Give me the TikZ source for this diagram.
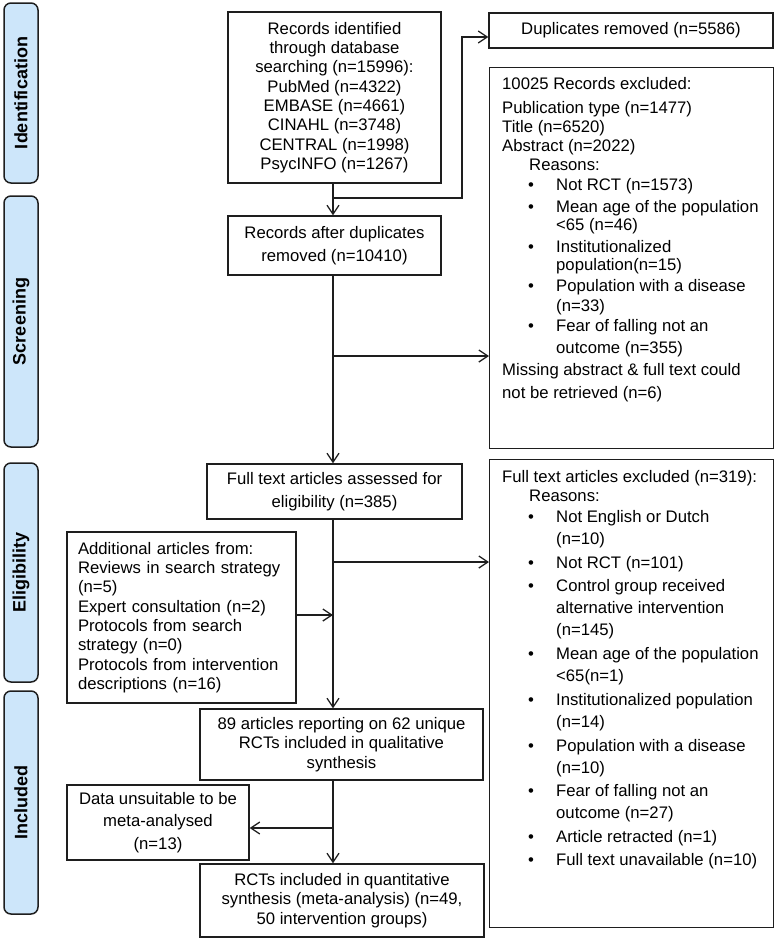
\documentclass[tikz,border=0pt]{standalone}
\usepackage{fontspec}
\setmainfont{Liberation Sans}
\usetikzlibrary{arrows.meta}
\definecolor{barfill}{RGB}{205,230,250}
\definecolor{ink}{RGB}{30,30,30}
\newcommand{\fcbul}{\hspace*{26pt}\makebox[28pt][l]{•}}
\newcommand{\fccont}{\hspace*{54pt}}
\begin{document}
\begin{tikzpicture}[x=1pt,y=-1pt,
  box/.style={draw=ink, line width=1.3pt, inner sep=0pt, align=center, text=black,
    font=\fontsize{16.7}{19.3}\selectfont},
  bar/.style={draw=ink, fill=barfill, line width=1.5pt, rounded corners=7pt, rotate=90,
    inner sep=0pt, minimum height=34pt, font=\fontsize{18}{20}\selectfont\bfseries},
  arr/.style={draw=ink, line width=1.3pt, -{Straight Barb[length=9pt,width=12pt]}},
  ln/.style={draw=ink, line width=1.3pt}
]
\useasboundingbox (0,0) rectangle (776,940);

% phase bars
\node[bar, minimum width=180pt] (ident) at (21,93) {Identification};
\node[bar, minimum width=251pt] (scr) at (21,321.5) {Screening};
\node[bar, minimum width=219pt] (elig) at (21,572.5) {Eligibility};
\node[bar, minimum width=223pt] (incl) at (21,802.5) {Included};

% main boxes
\node[box, minimum width=213pt, minimum height=171pt] (rec) at (334.5,97.5)
  {Records identified\\through database\\searching (n=15996):\\PubMed (n=4322)\\EMBASE (n=4661)\\CINAHL (n=3748)\\CENTRAL (n=1998)\\PsycINFO (n=1267)};
\node[box, minimum width=284pt, minimum height=35pt] (dup) at (631,30.5)
  {Duplicates removed (n=5586)};
\node[box, minimum width=213pt, minimum height=59pt, font=\fontsize{16.7}{23}\selectfont] (after) at (334.5,245.5)
  {Records after duplicates\\removed (n=10410)};
\node[box, minimum width=255pt, minimum height=55pt, font=\fontsize{16.7}{23}\selectfont] (full) at (334.5,491.5)
  {Full text articles assessed for\\eligibility (n=385)};
\node[box, minimum width=229pt, minimum height=171pt, text width=207pt, inner xsep=11pt, align=left] (add) at (181.5,617.5)
  {Additional articles from:\\Reviews in search strategy\\(n=5)\\Expert consultation (n=2)\\Protocols from search\\strategy (n=0)\\Protocols from intervention\\descriptions (n=16)};
\node[box, minimum width=283pt, minimum height=71pt] (n89) at (341.5,744.5)
  {89 articles reporting on 62 unique\\RCTs included in qualitative\\synthesis};
\node[box, minimum width=182pt, minimum height=75pt, font=\fontsize{16.7}{22.5}\selectfont] (data) at (158,822.5)
  {Data unsuitable to be\\meta-analysed\\(n=13)};
\node[box, minimum width=284pt, minimum height=73pt, font=\fontsize{16.7}{19.5}\selectfont] (rcts) at (342,900.5)
  {RCTs included in quantitative\\synthesis (meta-analysis) (n=49,\\50 intervention groups)};

% exclusion boxes
\node[box, minimum width=284pt, minimum height=381pt, anchor=north west] (exc1) at (489,67) {};
\node[anchor=base west, inner sep=0pt] (exc1t) at (502,89) {\parbox[t]{272pt}{\fontsize{16.7}{19.3}\selectfont\raggedright
10025 Records excluded:\\[4.7pt]
Publication type (n=1477)\\
Title (n=6520)\\
Abstract (n=2022)\\
\hspace*{27pt}Reasons:\\[0.7pt]
\fcbul Not RCT (n=1573)\\[2.7pt]
\fcbul Mean age of the population\\[-1.3pt]
\fccont <65 (n=46)\\[2.7pt]
\fcbul Institutionalized\\[-1.3pt]
\fccont population(n=15)\\[1.7pt]
\fcbul Population with a disease\\[0.7pt]
\fccont (n=33)\\[0.7pt]
\fcbul Fear of falling not an\\[2.7pt]
\fccont outcome (n=355)\\[2.7pt]
Missing abstract \& full text could\\[3.7pt]
not be retrieved (n=6)}};

\node[box, minimum width=284pt, minimum height=468pt, anchor=north west] (exc2) at (489,459) {};
\node[anchor=base west, inner sep=0pt] (exc2t) at (502,482) {\parbox[t]{272pt}{\fontsize{16.7}{22}\selectfont\raggedright
Full text articles excluded (n=319):\\[-3pt]
\hspace*{27pt}Reasons:\\[-1pt]
\fcbul Not English or Dutch\\
\fccont (n=10)\\[2pt]
\fcbul Not RCT (n=101)\\[1pt]
\fcbul Control group received\\
\fccont alternative intervention\\
\fccont (n=145)\\[2pt]
\fcbul Mean age of the population\\
\fccont <65(n=1)\\[2pt]
\fcbul Institutionalized population\\
\fccont (n=14)\\[2pt]
\fcbul Population with a disease\\
\fccont (n=10)\\[1pt]
\fcbul Fear of falling not an\\
\fccont outcome (n=27)\\[2pt]
\fcbul Article retracted (n=1)\\[1pt]
\fcbul Full text unavailable (n=10)}};

% connectors
\coordinate (m) at (333,0);
\coordinate (j1) at (333,198);
\coordinate (c1) at (462,37);
\coordinate (j2) at (333,356);
\coordinate (j3) at (333,562);
\coordinate (j4) at (333,615);
\coordinate (j5) at (333,828);

\draw[arr] (rec.south -| m) -- (after.north -| m);
\draw[arr] (j1) -| (c1) -- (c1 -| dup.west);
\draw[arr] (after.south -| m) -- (full.north -| m);
\draw[arr] (j2) -- (j2 -| exc1.west);
\draw[arr] (full.south -| m) -- (n89.north -| m);
\draw[arr] (j3) -- (j3 -| exc2.west);
\draw[arr] (j4 -| add.east) -- (j4);
\draw[arr] (n89.south -| m) -- (rcts.north -| m);
\draw[arr] (j5) -- (j5 -| data.east);
\end{tikzpicture}
\end{document}
